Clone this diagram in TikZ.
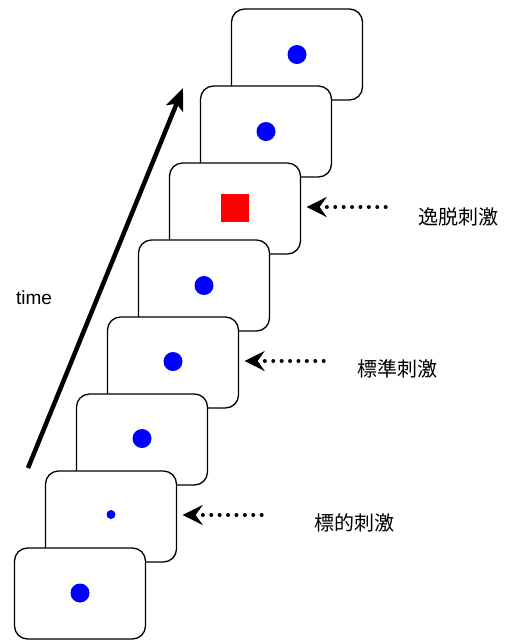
\documentclass[tikz,border=0pt]{standalone}
\usepackage{fontspec}
\setmainfont{Liberation Sans}
\newfontfamily\cjk{Noto Sans CJK JP}
\usetikzlibrary{arrows.meta}
\begin{document}
\begin{tikzpicture}[x=1pt,y=-1pt,
  screen/.style={draw=black, line width=1.3pt, fill=white, rounded corners=13pt,
    minimum width=131pt, minimum height=91pt, inner sep=0pt},
  bluedot/.style={circle, fill=blue, draw=none, minimum size=19pt, inner sep=0pt},
  smalldot/.style={circle, fill=blue, draw=none, minimum size=9pt, inner sep=0pt},
  redsq/.style={rectangle, fill=red, draw=none, minimum size=28.5pt, inner sep=0pt},
  pointer/.style={line width=4pt, line cap=round, dash pattern=on 0pt off 8.4pt,
    -{Stealth[length=20pt, width=20pt, inset=7pt, line cap=butt]}},
  lab/.style={font=\cjk\fontsize{20}{24}\selectfont, inner sep=0pt}
]
\useasboundingbox (0,0) rectangle (506,641);
% screens, drawn from top (earliest) to bottom (on top)
\foreach \i in {1,...,8}{
  \node[screen] (b\i) at ({297-31*(\i-1)}, {54.5+77*(\i-1)}) {};
}
% stimuli
\node[bluedot] (d1) at (b1.center) {};
\node[bluedot] (d2) at (b2.center) {};
\node[redsq]   (d3) at ([yshift=0.5pt]b3.center) {};
\node[bluedot] (d4) at (b4.center) {};
\node[bluedot] (d5) at ([yshift=1pt]b5.center) {};
\node[bluedot] (d6) at ([yshift=1pt]b6.center) {};
\node[smalldot] (d7) at ([yshift=2pt]b7.center) {};
\node[bluedot] (d8) at ([yshift=0.5pt]b8.center) {};
% time arrow
\coordinate (t0) at (28,468);
\coordinate (t1) at (183,88);
\draw[line width=4.5pt, -{Stealth[length=22pt, width=18pt, inset=5pt]}] (t0) -- (t1);
\node[font=\fontsize{19}{23}\selectfont, inner sep=0pt] (time) at (34,298) {time};
% pointers
\coordinate (p3) at ([xshift=84.5pt, yshift=1.5pt]b3.east);
\coordinate (q3) at ([xshift=5.5pt, yshift=1.5pt]b3.east);
\draw[pointer] (p3) -- (q3);
\coordinate (p5) at ([xshift=84.5pt, yshift=1.5pt]b5.east);
\coordinate (q5) at ([xshift=5.5pt, yshift=1.5pt]b5.east);
\draw[pointer] (p5) -- (q5);
\coordinate (p7) at ([xshift=84.5pt, yshift=1.5pt]b7.east);
\coordinate (q7) at ([xshift=5.5pt, yshift=1.5pt]b7.east);
\draw[pointer] (p7) -- (q7);
% labels
\node[lab] (l3) at (458,217) {逸脱刺激};
\node[lab] (l5) at (397.5,369) {標準刺激};
\node[lab] (l7) at (354,523) {標的刺激};
\end{tikzpicture}
\end{document}
